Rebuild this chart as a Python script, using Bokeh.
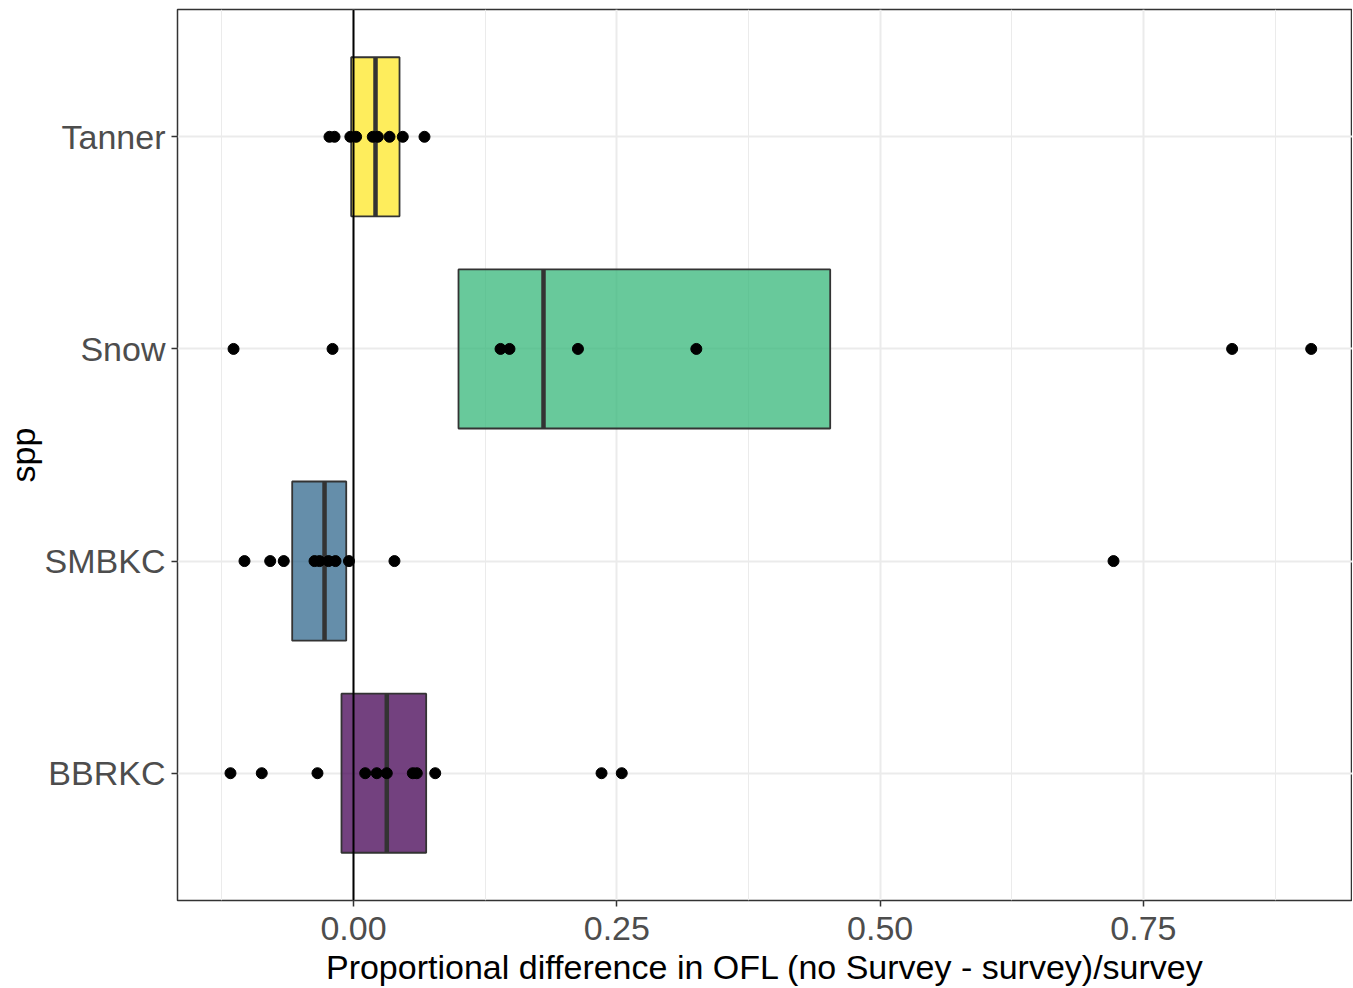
from bokeh.plotting import figure
from bokeh.models import Range1d, FixedTicker, Span, ColumnDataSource
from bokeh.embed import file_html
from bokeh.resources import INLINE

# ---- data ----
species = ["BBRKC", "SMBKC", "Snow", "Tanner"]
box_colors = ["#440154", "#31688E", "#35B779", "#FDE725"]

q1 = [-0.0114, -0.0582, 0.0997, -0.0022]
median = [0.0316, -0.0275, 0.1804, 0.0209]
q3 = [0.0690, -0.0069, 0.4526, 0.0437]

bbrkc_pts = [-0.1168, -0.0871, -0.0342, 0.0111, 0.0221, 0.0316, 0.0563, 0.0601, 0.0776, 0.2355, 0.2547]
smbkc_pts = [-0.1035, -0.0791, -0.0662, -0.0370, -0.0323, -0.0237, -0.0171, -0.0043, 0.0389, 0.7216]
snow_pts = [-0.1139, -0.0199, 0.1396, 0.1481, 0.2131, 0.3255, 0.8342, 0.9093]
tanner_pts = [-0.0228, -0.0180, -0.0030, 0.0025, 0.0183, 0.0231, 0.0342, 0.0468, 0.0674]
points_by_species = [bbrkc_pts, smbkc_pts, snow_pts, tanner_pts]

x_ticks = [0.0, 0.25, 0.5, 0.75]
x_minor = [-0.125, 0.125, 0.375, 0.625, 0.875]
x_tick_labels = ["0.00", "0.25", "0.50", "0.75"]

# ---- figure ----
pos = list(range(1, len(species) + 1))
BOX_H = 0.75

p = figure(
    frame_width=1175, frame_height=891,
    x_range=Range1d(-0.1671, 0.9485), y_range=Range1d(0.4, 4.6),
    output_backend="svg", toolbar_location=None,
    min_border_left=170, min_border_right=0, min_border_top=9, min_border_bottom=72,
    x_axis_label="Proportional difference in OFL (no Survey - survey)/survey",
    y_axis_label="spp",
)
p.background_fill_color = "white"
p.border_fill_color = "white"
p.outline_line_color = "#333333"
p.outline_line_width = 1.5

FONT = "Liberation Sans"
for ax in (p.xaxis[0], p.yaxis[0]):
    ax.axis_line_color = None
    ax.major_tick_line_color = "#333333"
    ax.major_tick_line_width = 1.5
    ax.major_tick_out = 6
    ax.major_tick_in = 0
    ax.minor_tick_line_color = None
    ax.major_label_text_font = FONT
    ax.major_label_text_font_size = "34px"
    ax.major_label_text_color = "#4D4D4D"
    ax.axis_label_text_font = FONT
    ax.axis_label_text_font_size = "34px"
    ax.axis_label_text_font_style = "normal"
    ax.axis_label_text_color = "black"

p.xaxis.ticker = FixedTicker(ticks=x_ticks, minor_ticks=x_minor)
p.xaxis.major_label_overrides = {t: l for t, l in zip(x_ticks, x_tick_labels)}
p.xaxis.major_label_standoff = 10
p.xaxis.axis_label_standoff = 5

p.yaxis.ticker = FixedTicker(ticks=pos)
p.yaxis.major_label_overrides = {i: s for i, s in zip(pos, species)}
p.yaxis.major_label_standoff = 6
p.yaxis.axis_label_standoff = 0

p.xgrid.grid_line_color = "#EBEBEB"
p.xgrid.grid_line_width = 2
p.xgrid.minor_grid_line_color = "#EBEBEB"
p.xgrid.minor_grid_line_width = 1
p.ygrid.grid_line_color = "#EBEBEB"
p.ygrid.grid_line_width = 2

# boxes
box_src = ColumnDataSource(dict(y=pos, left=q1, right=q3, med=median, color=box_colors,
                                y0=[v - BOX_H / 2 for v in pos], y1=[v + BOX_H / 2 for v in pos]))
p.hbar(y="y", left="left", right="right", height=BOX_H, source=box_src,
       fill_color="color", fill_alpha=0.75, line_color="#333333", line_width=1.8)
p.segment(x0="med", x1="med", y0="y0", y1="y1", source=box_src,
          line_color="#333333", line_width=4.5)

# zero reference line
p.add_layout(Span(location=0, dimension="height", line_color="black", line_width=2))

# points
xs, ys = [], []
for v, pts in zip(pos, points_by_species):
    xs += pts
    ys += [v] * len(pts)
p.scatter(x=xs, y=ys, size=11, fill_color="black", line_color="black")

open("out.html", "w").write(file_html(p, INLINE))
